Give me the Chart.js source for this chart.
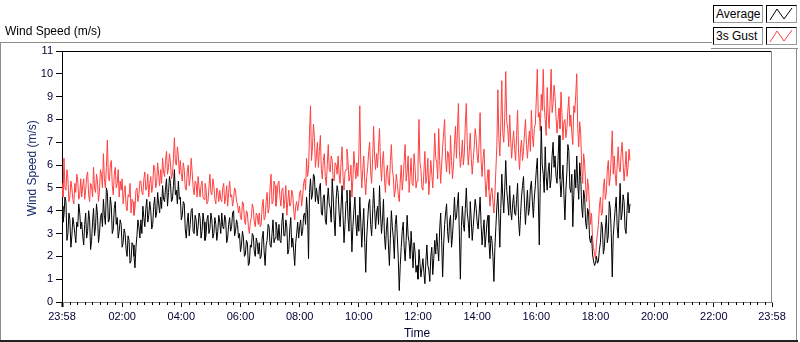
<!DOCTYPE html>
<html><head><meta charset="utf-8">
<script src="https://cdn.jsdelivr.net/npm/chart.js@4.4.1/dist/chart.umd.min.js"></script>
<style>
html,body{margin:0;padding:0;background:#fff;}
#wrap{position:relative;width:800px;height:342px;overflow:hidden;font-family:"Liberation Sans",Arial,sans-serif;}
canvas{position:absolute;left:0;top:0;}
.lbl{position:absolute;font-size:12px;color:#000;white-space:nowrap;}
.fr{position:absolute;}
.lg{position:absolute;box-sizing:border-box;border:1px solid #000;border-right-color:#9a9a9a;border-bottom-color:#9a9a9a;background:#fff;font-size:12px;line-height:16px;padding-left:2px;color:#000;white-space:nowrap;}
.ic{position:absolute;box-sizing:border-box;border:1px solid #000;border-right-color:#9a9a9a;border-bottom-color:#9a9a9a;background:#fff;}
</style></head>
<body><div id="wrap">
<canvas id="c" width="800" height="342"></canvas>
<div class="lbl" style="left:5px;top:24px;">Wind Speed (m/s)</div>
<div class="fr" style="left:0;top:42px;width:712px;height:1px;background:#8c8c8c"></div>
<div class="fr" style="left:711px;top:48px;width:87px;height:1px;background:#8c8c8c"></div>
<div class="fr" style="left:0;top:42px;width:1px;height:299px;background:#8c8c8c"></div>
<div class="fr" style="left:796px;top:48px;width:1px;height:293px;background:#8c8c8c"></div>
<div class="fr" style="left:0;top:340px;width:798px;height:2px;background:#222"></div>
<div class="lg" style="left:713px;top:5px;width:50px;height:18px;">Average</div>
<div class="ic" style="left:766px;top:5px;width:31px;height:18px;"><svg width="29" height="16"><polyline points="3,14 10,3 17,13 25,2" fill="none" stroke="#000" stroke-width="1"/></svg></div>
<div class="lg" style="left:713px;top:27px;width:50px;height:18px;">3s Gust</div>
<div class="ic" style="left:766px;top:27px;width:31px;height:18px;"><svg width="29" height="16"><polyline points="3,14 10,3 17,13 25,2" fill="none" stroke="#ff4040" stroke-width="1"/></svg></div>
</div>
<script>
// samples every 2 minutes, starting at 23:58
const SAMPLE_STEP_MIN = 2;
const avgSpeed = [
4.2,3.5,3.8,4.6,4.4,2.7,3.0,3.9,3.6,2.4,2.9,3.7,3.4,3.0,2.6,3.5,3.3,4.3,3.9,3.2,
3.5,2.9,2.5,3.4,3.9,2.8,3.1,4.0,3.6,2.3,2.7,3.5,4.1,2.9,3.3,4.3,3.8,2.6,3.0,3.7,
3.9,3.3,4.5,3.8,3.4,5.0,4.8,3.5,3.6,4.6,4.2,3.0,3.2,4.1,4.4,3.4,3.7,2.8,3.1,3.6,
3.4,2.4,2.6,3.2,3.0,2.3,2.0,2.9,2.7,1.7,1.8,2.6,2.5,2.0,1.5,2.4,2.9,3.6,3.3,2.8,
3.6,3.0,4.2,3.7,3.3,4.1,4.5,3.5,3.8,4.4,4.0,3.2,3.4,4.2,4.6,3.7,3.9,4.8,4.3,3.9,
4.6,4.1,5.1,4.5,4.4,5.0,5.4,4.2,4.8,5.5,5.2,4.4,4.5,5.1,5.8,4.7,4.9,4.3,5.3,4.5,
4.6,3.6,3.8,4.4,4.3,3.2,2.8,3.5,3.9,2.9,3.4,4.0,4.1,3.1,3.0,3.8,3.6,2.9,3.3,3.9,
3.7,2.8,3.1,3.9,3.5,2.7,2.9,3.6,3.8,3.0,3.2,3.9,3.6,2.8,3.0,3.7,3.4,2.7,3.1,3.8,
3.5,3.0,3.9,3.3,3.2,3.8,3.6,2.6,2.8,3.4,3.7,3.1,3.3,3.9,4.0,2.9,3.1,3.6,3.4,2.8,
3.0,2.2,2.5,3.1,2.8,2.0,2.1,2.7,2.6,1.6,1.7,2.5,2.4,3.0,2.9,2.2,2.0,2.8,2.6,2.1,
2.6,1.9,2.0,2.8,3.1,2.2,1.6,2.5,2.7,3.4,3.3,2.5,2.4,3.0,3.6,2.6,2.8,3.5,3.2,2.7,
3.4,2.7,2.6,3.5,3.9,2.9,2.9,3.6,3.3,2.1,2.3,3.2,3.7,2.4,2.8,2.2,1.6,2.6,3.0,3.5,
2.8,3.3,3.6,2.9,3.1,3.8,3.9,3.4,4.6,3.9,1.9,4.8,5.4,4.5,4.7,5.6,5.5,4.4,5.0,4.6,
4.3,5.0,5.2,3.9,3.8,4.6,4.7,3.6,3.4,4.4,5.0,4.3,4.1,3.5,5.4,4.6,3.6,2.9,4.5,5.1,
4.8,3.9,3.3,4.2,5.1,3.8,2.6,3.4,4.4,4.9,3.7,3.1,4.9,3.6,2.2,3.3,4.0,4.6,3.5,2.9,
3.8,3.1,4.6,3.5,2.4,3.3,4.1,2.6,1.3,2.8,3.6,4.3,4.5,3.4,2.9,3.9,5.0,4.1,3.2,3.9,
4.2,3.4,5.1,3.9,3.0,3.6,4.5,2.9,2.3,3.2,3.7,2.5,1.6,2.8,4.0,3.3,2.8,1.9,3.4,3.8,
2.9,1.9,0.5,1.6,2.4,3.1,3.5,2.4,1.8,2.7,3.8,2.9,2.6,1.9,3.1,2.3,1.5,2.6,2.2,1.3,
1.6,1.0,2.3,1.7,1.1,1.5,1.9,1.3,0.8,1.8,2.5,1.6,1.4,0.9,2.0,2.4,1.2,1.9,2.7,2.1,
3.0,2.4,1.8,3.2,3.9,2.7,1.1,2.5,3.4,3.9,4.3,3.1,2.6,3.5,3.8,2.4,2.9,3.7,4.6,3.6,
3.7,4.3,4.8,2.9,1.0,3.3,4.2,3.4,3.1,4.1,5.0,3.9,3.5,2.8,4.4,3.6,2.7,3.3,3.9,4.5,
4.1,3.5,3.2,3.9,4.6,3.4,2.5,3.1,3.6,2.4,2.9,3.5,3.8,2.6,1.9,2.9,2.7,2.0,0.9,2.4,
3.3,4.2,4.8,3.7,2.4,4.1,5.6,4.6,3.9,5.0,6.2,4.9,4.4,3.8,5.1,4.0,3.6,4.3,4.7,3.9,
3.8,4.5,5.2,3.6,2.9,3.8,4.6,5.1,5.5,4.3,3.4,4.2,4.9,3.8,4.1,5.0,5.3,4.4,3.7,4.6,
5.1,5.8,6.3,4.6,2.5,5.2,7.7,6.0,5.6,4.8,6.8,5.5,4.9,5.7,6.1,5.0,5.4,6.4,7.0,5.9,
6.4,5.5,5.2,6.2,7.3,5.4,4.6,5.3,6.0,4.7,3.6,4.9,5.7,6.9,6.6,5.0,4.8,5.6,3.3,4.7,
5.8,5.0,6.4,5.2,4.5,6.1,5.5,4.2,3.7,4.9,4.6,3.5,3.2,4.1,3.9,2.8,2.6,2.9,2.1,1.8,
1.6,1.7,2.0,1.7,1.8,2.3,2.6,3.5,3.3,2.1,2.4,3.2,3.8,2.6,2.9,4.4,4.1,3.0,1.1,2.9,
3.5,4.1,4.6,3.3,2.8,3.9,5.2,3.6,3.9,4.7,4.4,3.2,3.0,4.0,4.8,3.9,4.3
];
const gustSpeed = [
5.2,4.6,6.3,5.0,4.9,5.8,5.4,4.4,4.6,5.3,5.0,4.5,4.3,5.2,4.8,5.6,5.3,4.5,4.7,5.4,
4.6,5.1,5.4,4.5,4.9,5.5,5.7,4.7,4.4,5.2,5.1,4.6,5.9,5.0,4.8,5.6,5.3,4.4,4.9,5.8,
5.6,5.0,6.5,5.4,5.0,5.9,7.1,5.5,5.3,6.0,6.2,5.1,4.7,5.6,5.9,5.0,5.2,5.8,4.6,5.3,
4.9,5.4,4.3,4.8,5.1,4.2,4.0,4.7,4.6,5.2,3.9,4.5,4.4,3.8,4.1,4.9,5.0,4.4,4.7,5.3,
5.3,4.8,4.7,5.4,5.7,4.9,5.0,5.6,4.6,5.2,5.5,4.8,5.1,6.0,5.9,5.0,5.2,6.1,5.6,5.1,
5.8,5.2,6.3,5.7,5.5,6.2,6.6,5.6,5.9,6.5,6.1,5.4,5.6,6.3,7.2,6.1,6.0,6.8,6.4,5.6,
6.2,5.6,5.3,6.1,5.8,5.0,4.9,5.7,6.0,5.1,5.4,6.3,5.7,5.0,4.7,5.3,5.2,4.6,5.5,5.0,
4.6,5.1,5.3,4.6,4.5,5.2,5.0,4.3,4.4,5.0,5.6,4.8,4.7,5.4,5.1,4.5,4.3,5.0,4.8,4.4,
4.9,4.5,4.4,5.0,5.2,4.3,4.6,5.1,4.2,4.8,5.3,4.6,4.7,4.2,4.5,5.0,4.9,4.4,4.3,3.9,
4.2,3.7,3.6,4.4,4.3,3.6,3.4,4.0,3.9,3.3,3.0,3.5,3.7,4.3,4.1,3.5,3.3,3.9,3.8,3.4,
3.9,3.3,3.4,4.2,4.5,3.6,3.7,4.4,4.8,3.9,4.1,5.0,5.6,4.3,4.4,5.3,5.1,4.2,4.6,5.2,
5.3,4.6,4.2,4.9,5.0,4.1,4.5,5.1,3.8,4.4,4.9,4.2,4.3,4.9,4.7,4.0,3.6,4.2,4.4,4.0,
4.3,4.8,4.9,4.2,4.6,5.2,5.4,4.9,6.3,5.5,5.8,7.4,8.6,6.2,6.8,7.8,7.2,5.9,6.4,7.0,
5.9,6.6,7.3,5.8,5.4,6.2,6.5,5.5,5.1,6.0,6.9,5.8,5.7,6.4,6.2,5.4,5.3,6.1,6.0,5.6,
6.4,5.6,5.2,6.1,6.8,5.5,4.9,5.7,5.8,6.7,6.2,5.3,5.5,6.0,4.6,5.4,6.6,5.9,5.4,6.1,
5.5,6.4,8.6,6.0,5.0,5.8,6.4,5.3,4.7,5.5,5.9,6.6,7.0,5.7,5.2,6.3,7.7,6.4,5.8,6.5,
5.9,6.8,7.6,6.1,5.3,6.2,6.6,5.4,4.8,5.7,6.0,5.2,5.1,6.2,6.9,5.8,5.5,4.6,4.9,5.6,
5.2,4.7,4.4,5.3,6.0,4.9,5.4,6.2,6.9,5.3,5.7,6.4,4.8,5.5,6.3,5.2,5.1,6.5,5.9,5.0,
5.3,6.0,8.0,6.1,5.8,5.0,4.9,5.7,6.6,5.2,5.5,6.3,4.7,5.4,6.2,5.6,5.0,6.1,7.4,6.3,
6.1,5.4,7.6,6.2,5.2,6.0,6.8,7.4,8.0,6.3,5.7,6.6,6.5,5.6,7.3,6.2,5.4,6.0,6.9,7.7,
6.3,7.5,8.7,6.6,5.9,6.4,7.1,6.0,6.5,7.8,8.7,6.9,6.0,6.6,7.4,6.3,5.6,6.2,6.8,7.6,
7.2,6.4,6.1,7.0,8.3,6.2,5.5,6.3,6.7,5.4,4.6,5.3,5.8,4.9,4.2,4.8,5.0,4.4,3.9,4.7,
5.8,6.9,9.3,7.2,6.4,7.8,9.7,7.4,7.0,8.1,10.1,7.9,7.6,6.8,8.2,7.1,6.3,7.0,7.5,6.7,
6.2,7.3,8.4,6.5,5.8,6.7,7.1,6.2,6.6,7.4,8.0,6.9,6.3,7.0,7.5,6.6,8.4,7.3,6.8,7.6,
7.8,8.9,10.2,8.1,8.3,7.5,9.1,8.4,10.2,8.6,8.0,7.3,9.4,8.2,7.6,8.8,10.2,8.3,8.7,9.5,
9.0,8.1,7.4,8.0,8.5,7.6,9.2,8.3,7.1,7.9,8.0,7.2,7.6,8.4,9.0,7.7,8.2,7.4,6.9,8.6,
8.3,9.1,10.0,7.6,6.8,7.9,7.4,6.0,5.2,6.5,6.1,5.1,4.4,5.4,5.0,4.1,3.4,3.9,2.8,2.4,
2.1,1.9,2.6,3.0,3.4,4.2,4.6,3.8,3.9,5.0,5.4,4.5,4.8,5.8,6.2,5.1,5.5,6.4,7.5,5.6,
6.4,5.6,5.1,6.0,6.8,5.9,5.7,6.5,7.0,6.1,5.3,5.9,6.6,5.5,5.9,6.7,6.2
];
// x axis: minutes after 23:58
const tickMinutes = [0,122,242,362,482,602,722,842,962,1082,1202,1322,1440];
const tickLabels = ['23:58','02:00','04:00','06:00','08:00','10:00','12:00','14:00','16:00','18:00','20:00','22:00','23:58'];
const yTicks = [0,1,2,3,4,5,6,7,8,9,10,11];

const FONT = '"Liberation Sans", Arial, sans-serif';
const toPts = arr => arr.map((v,i)=>({x:i*SAMPLE_STEP_MIN, y:v}));

const framePlugin = {
  id:'frame',
  afterDraw(chart){
    const {ctx, chartArea:a, scales:{x}} = chart;
    ctx.save();
    ctx.lineWidth = 1;
    ctx.strokeStyle = '#000';
    ctx.beginPath(); ctx.moveTo(a.left, a.top+0.5); ctx.lineTo(a.right, a.top+0.5); ctx.stroke();
    ctx.strokeStyle = '#8c8c8c';
    ctx.beginPath(); ctx.moveTo(a.right-0.5, a.top); ctx.lineTo(a.right-0.5, a.bottom); ctx.stroke();
    ctx.strokeStyle = '#000';
    ctx.beginPath();
    for (let i=0;i<tickMinutes.length-1;i++){
      const m0=tickMinutes[i], m1=tickMinutes[i+1];
      for (let j=1;j<8;j++){
        const px = Math.round(x.getPixelForValue(m0+(m1-m0)*j/8))+0.5;
        ctx.moveTo(px, a.bottom); ctx.lineTo(px, a.bottom+3);
      }
    }
    ctx.stroke();
    ctx.restore();
  }
};

new Chart(document.getElementById('c'), {
  type:'line',
  data:{datasets:[
    {label:'Average', data:toPts(avgSpeed), borderColor:'#000000', borderWidth:1, pointRadius:0, tension:0, fill:false},
    {label:'3s Gust', data:toPts(gustSpeed), borderColor:'#ff4040', borderWidth:1, pointRadius:0, tension:0, fill:false}
  ]},
  options:{
    responsive:false, devicePixelRatio:1, animation:false,
    layout:{padding:{top:51,right:28,left:0,bottom:0}},
    plugins:{legend:{display:false}, tooltip:{enabled:false}},
    scales:{
      x:{type:'linear', min:0, max:1440,
        afterBuildTicks(s){ s.ticks = tickMinutes.map(v=>({value:v})); },
        afterFit(s){ s.height = 40; },
        ticks:{autoSkip:false, maxRotation:0, padding:3, color:'#000033', font:{family:FONT, size:11},
          callback:(v)=>tickLabels[tickMinutes.indexOf(v)]},
        grid:{drawOnChartArea:false, tickLength:5, tickColor:'#000', tickWidth:(c)=>c.index===0?2:1},
        border:{color:'#808080', width:1},
        title:{display:true, text:'Time', color:'#000033', font:{family:FONT, size:12}, padding:{top:0,bottom:1}}
      },
      y:{min:0, max:11,
        afterBuildTicks(s){ s.ticks = yTicks.map(v=>({value:v})); },
        afterFit(s){ s.width = 62; },
        ticks:{padding:3, color:'#000033', font:{family:FONT, size:11}},
        grid:{drawOnChartArea:false, tickLength:6, tickColor:'#000'},
        border:{color:'#000', width:1},
        title:{display:true, text:'     Wind Speed (m/s)', color:'#1a2a6a', font:{family:FONT, size:12}, padding:{top:25,bottom:0}}
      }
    }
  },
  plugins:[framePlugin]
});
</script>
</body></html>
